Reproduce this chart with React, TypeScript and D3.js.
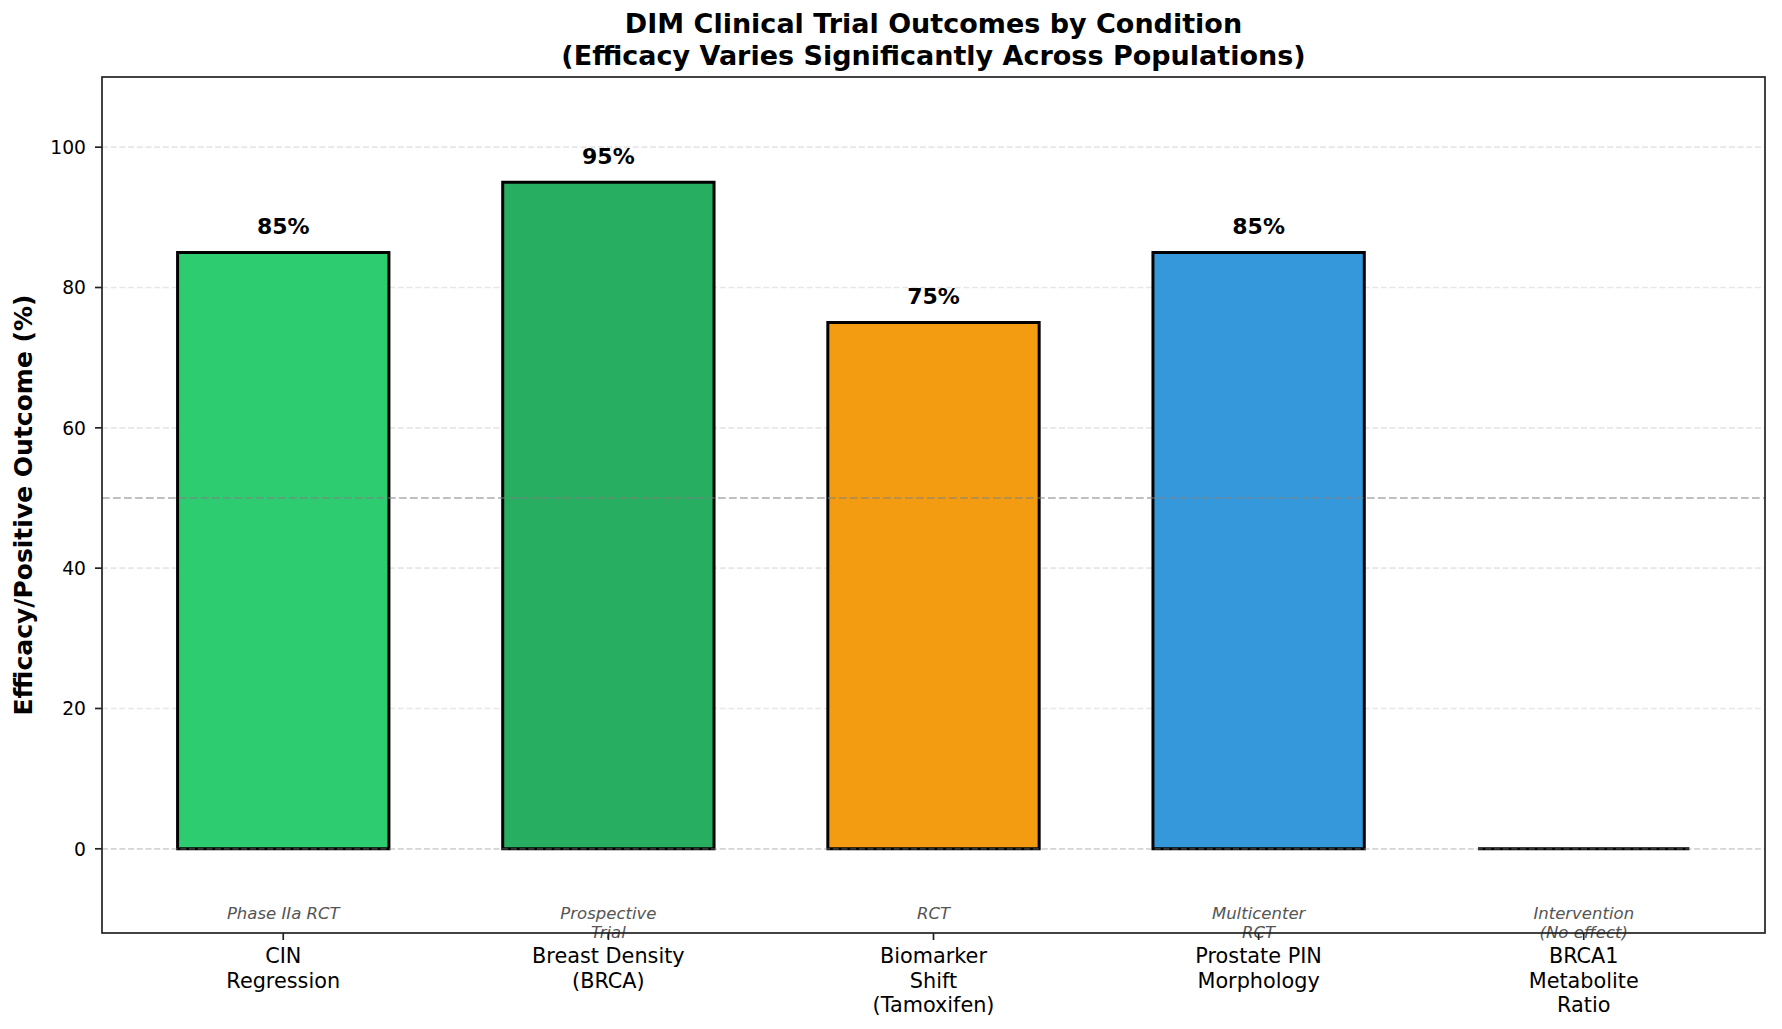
import React, { useEffect, useRef } from "react";
import * as d3 from "d3";

// outcome per trial population, in percent
const categories = [
  "CIN\nRegression",
  "Breast Density\n(BRCA)",
  "Biomarker\nShift\n(Tamoxifen)",
  "Prostate PIN\nMorphology",
  "BRCA1\nMetabolite\nRatio",
];
const efficacy = [85, 95, 75, 85, 0];
const studyTypes = [
  "Phase IIa RCT",
  "Prospective\nTrial",
  "RCT",
  "Multicenter\nRCT",
  "Intervention\n(No effect)",
];
const barColors = ["#2ecc71", "#27ae60", "#f39c12", "#3498db", "#e74c3c"];
const yTicks = [0, 20, 40, 60, 80, 100];
const referenceLine = 50;

const FONT = "DejaVu Sans, sans-serif";

function OutcomeChart() {
  const ref = useRef<SVGSVGElement | null>(null);

  useEffect(() => {
    const width = 1782;
    const height = 1029;
    const margin = { top: 77, right: 17, bottom: 96, left: 102 };

    const svg = d3.select(ref.current);
    svg.selectAll("*").remove();
    svg.attr("width", width).attr("height", height);

    svg.append("rect").attr("width", width).attr("height", height).attr("fill", "white");

    const barWidth = 0.65;
    const pad = (categories.length - 1 + barWidth) * 0.05;
    const x = d3
      .scaleLinear()
      .domain([-barWidth / 2 - pad, categories.length - 1 + barWidth / 2 + pad])
      .range([margin.left, width - margin.right]);
    const y = d3
      .scaleLinear()
      .domain([-12, 110])
      .range([height - margin.bottom, margin.top]);

    const x0 = margin.left;
    const x1 = width - margin.right;

    const gridLine = (g: any, v: number) =>
      g.append("line")
        .attr("x1", x0)
        .attr("x2", x1)
        .attr("y1", y(v))
        .attr("y2", y(v))
        .attr("stroke", "#b0b0b0")
        .attr("stroke-opacity", 0.3)
        .attr("stroke-width", 1.7)
        .attr("stroke-dasharray", "6,2.7");

    // horizontal grid
    const grid = svg.append("g");
    yTicks.forEach(v => gridLine(grid, v));

    // bars as outlined paths so a zero value still shows its edge
    const bw = x(barWidth) - x(0);
    svg.append("g")
      .selectAll("path")
      .data(efficacy)
      .join("path")
      .attr("d", (d, i) => {
        const p = d3.path();
        p.rect(x(i - barWidth / 2), y(d), bw, y(0) - y(d));
        return p.toString();
      })
      .attr("fill", (d, i) => barColors[i])
      .attr("stroke", "black")
      .attr("stroke-width", 3);

    // zero grid line sits over the bar bottoms
    gridLine(svg, 0);

    // 50% reference
    svg.append("line")
      .attr("x1", x0)
      .attr("x2", x1)
      .attr("y1", y(referenceLine))
      .attr("y2", y(referenceLine))
      .attr("stroke", "gray")
      .attr("stroke-opacity", 0.5)
      .attr("stroke-width", 2)
      .attr("stroke-dasharray", "7.7,3.3");

    // value labels
    svg.append("g")
      .selectAll("text")
      .data(efficacy.map((v, i) => ({ v, i })).filter(d => d.v > 0))
      .join("text")
      .attr("x", d => x(d.i))
      .attr("y", d => y(d.v + 2.6))
      .attr("text-anchor", "middle")
      .attr("font-family", FONT)
      .attr("font-weight", "bold")
      .attr("font-size", 22)
      .attr("fill", "black")
      .text(d => `${d.v}%`);

    // study design notes
    const notes = svg.append("g")
      .selectAll("text")
      .data(studyTypes)
      .join("text")
      .attr("text-anchor", "middle")
      .attr("font-family", FONT)
      .attr("font-style", "italic")
      .attr("font-size", 16.5)
      .attr("fill", "#555555");
    notes.each(function (d, i) {
      d3.select(this)
        .selectAll("tspan")
        .data(d.split("\n"))
        .join("tspan")
        .attr("x", x(i))
        .attr("y", (s, k) => y(-10) + k * 19.5)
        .text(s => s);
    });

    // frame
    svg.append("rect")
      .attr("x", x0)
      .attr("y", margin.top)
      .attr("width", x1 - x0)
      .attr("height", height - margin.bottom - margin.top)
      .attr("fill", "none")
      .attr("stroke", "#222")
      .attr("stroke-width", 1.7);

    // y axis
    const yAxis = svg.append("g");
    yAxis.selectAll("line")
      .data(yTicks)
      .join("line")
      .attr("x1", x0 - 7)
      .attr("x2", x0)
      .attr("y1", d => y(d))
      .attr("y2", d => y(d))
      .attr("stroke", "#222")
      .attr("stroke-width", 1.7);
    yAxis.selectAll("text")
      .data(yTicks)
      .join("text")
      .attr("x", x0 - 16)
      .attr("y", d => y(d))
      .attr("dy", "0.36em")
      .attr("text-anchor", "end")
      .attr("font-family", FONT)
      .attr("font-size", 18.7)
      .attr("fill", "black")
      .text(d => d);

    // x axis
    const xAxis = svg.append("g");
    const yb = height - margin.bottom;
    xAxis.selectAll("line")
      .data(categories)
      .join("line")
      .attr("x1", (d, i) => x(i))
      .attr("x2", (d, i) => x(i))
      .attr("y1", yb)
      .attr("y2", yb + 7)
      .attr("stroke", "#222")
      .attr("stroke-width", 1.7);
    const xLabels = xAxis.selectAll("text")
      .data(categories)
      .join("text")
      .attr("text-anchor", "middle")
      .attr("font-family", FONT)
      .attr("font-size", 20.8)
      .attr("fill", "black");
    xLabels.each(function (d, i) {
      d3.select(this)
        .selectAll("tspan")
        .data(d.split("\n"))
        .join("tspan")
        .attr("x", x(i))
        .attr("y", (s, k) => yb + 30 + k * 24.5)
        .text(s => s);
    });

    // y label
    svg.append("text")
      .attr("transform", `translate(32, ${(margin.top + yb) / 2}) rotate(-90)`)
      .attr("text-anchor", "middle")
      .attr("font-family", FONT)
      .attr("font-weight", "bold")
      .attr("font-size", 25)
      .attr("fill", "black")
      .text("Efficacy/Positive Outcome (%)");

    // title
    const title = svg.append("text")
      .attr("text-anchor", "middle")
      .attr("font-family", FONT)
      .attr("font-weight", "bold")
      .attr("font-size", 27)
      .attr("fill", "black");
    ["DIM Clinical Trial Outcomes by Condition", "(Efficacy Varies Significantly Across Populations)"]
      .forEach((line, k) => {
        title.append("tspan")
          .attr("x", (x0 + x1) / 2)
          .attr("y", 33 + k * 31.5)
          .text(line);
      });
  }, []);

  return <svg ref={ref} style={{ display: "block" }} />;
}

export default function App() {
  useEffect(() => {
    document.body.style.margin = "0";
  }, []);
  return <OutcomeChart />;
}
